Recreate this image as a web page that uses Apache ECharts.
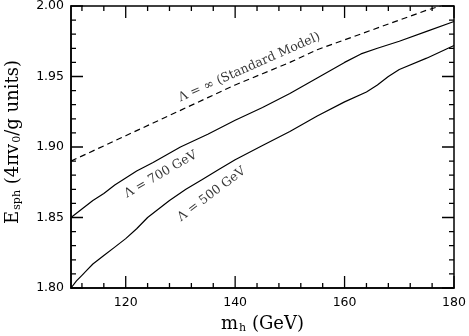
<!DOCTYPE html>
<html>
<head>
<meta charset="utf-8">
<script src="https://cdn.jsdelivr.net/npm/echarts@6.0.0/dist/echarts.min.js"></script>
<style>
html, body { margin: 0; padding: 0; background: #fff; }
#chart { width: 469px; height: 336px; }
</style>
</head>
<body>
<div id="chart"></div>
<script>
// Standard Model (Lambda = infinity), dashed
const mhSM = [110, 115, 120, 125, 130, 135, 140, 145, 150, 155, 160, 165, 170, 175, 180]
const esphSM = [1.890, 1.899, 1.908, 1.917, 1.926, 1.935, 1.944, 1.952, 1.960, 1.969, 1.976, 1.983, 1.990, 1.997, 2.003]
// Lambda = 700 GeV
const mh700 = [110, 112, 114, 116, 118, 120, 122, 125, 130, 135, 140, 145, 150, 155, 160, 163, 166, 170, 175, 180]
const esph700 = [1.850, 1.856, 1.862, 1.867, 1.873, 1.878, 1.883, 1.889, 1.900, 1.909, 1.919, 1.928, 1.938, 1.949, 1.960, 1.966, 1.970, 1.975, 1.982, 1.989]
// Lambda = 500 GeV
const mh500 = [110, 111, 112, 113, 114, 116, 118, 120, 122, 124, 126, 128, 131, 134, 137, 140, 145, 150, 155, 160, 164, 166, 168, 170, 175, 180]
const esph500 = [1.800, 1.805, 1.809, 1.813, 1.817, 1.823, 1.829, 1.835, 1.842, 1.850, 1.856, 1.862, 1.870, 1.877, 1.884, 1.891, 1.901, 1.911, 1.922, 1.932, 1.939, 1.944, 1.950, 1.955, 1.963, 1.972]

// curve labels: text, anchor (mh, Esph), rotation
const labelText = ['Λ = ∞ (Standard Model)', 'Λ = 700 GeV', 'Λ = 500 GeV']
const labelPos = [[142.6, 1.9565], [126.4, 1.8805], [135.7, 1.8665]]
const labelRot = [24, 30, 37]

// tick values
const xMajor = [120, 140, 160, 180]
const xMinor = [112, 116, 124, 128, 132, 136, 144, 148, 152, 156, 164, 168, 172, 176]
const yMajor = [1.80, 1.85, 1.90, 1.95, 2.00]
const yMinor = [1.81, 1.82, 1.83, 1.84, 1.86, 1.87, 1.88, 1.89, 1.91, 1.92, 1.93, 1.94, 1.96, 1.97, 1.98, 1.99]

const xRange = [110, 180]
const yRange = [1.80, 2.00]
const black = '#000000'
const serif = 'DejaVu Serif'
const grid = { left: 71, right: 15, top: 6, bottom: 48 }
const plotW = 469 - grid.left - grid.right
const plotH = 336 - grid.top - grid.bottom

function pairs(xs, ys) {
	return xs.map((x, i) => [x, ys[i]])
}

// tick lengths (12px major, 5px minor) turned into axis units
const xLen = px => px * (xRange[1] - xRange[0]) / plotW
const yLen = px => px * (yRange[1] - yRange[0]) / plotH

// all frame ticks as one broken polyline, pointing inwards
const gap = ['-', '-']
let tickLine = []
function addX(v, px) {
	tickLine.push([v, yRange[0]], [v, yRange[0] + yLen(px)], gap)
	tickLine.push([v, yRange[1]], [v, yRange[1] - yLen(px)], gap)
}
function addY(v, px) {
	tickLine.push([xRange[0], v], [xRange[0] + xLen(px), v], gap)
	tickLine.push([xRange[1], v], [xRange[1] - xLen(px), v], gap)
}
xMajor.forEach(v => addX(v, 12))
xMinor.forEach(v => addX(v, 5))
yMajor.forEach(v => addY(v, 12))
yMinor.forEach(v => addY(v, 5))

const tickFont = { color: black, fontFamily: 'DejaVu Sans', fontSize: 12.5 }
const titleRich = {
	a: { fontFamily: serif, fontSize: 18, color: black },
	e: { fontFamily: serif, fontSize: 18, color: black, padding: [0, 0, 0, 10] },
	s: { fontFamily: serif, fontSize: 11, color: black, padding: [9, 0, 0, 1] }
}

const chart = echarts.init(document.getElementById('chart'))

const option = {
	animation: false,
	grid: Object.assign({
		outerBoundsMode: 'none',
		show: true, borderColor: black, borderWidth: 1.5
	}, grid),
	xAxis: {
		type: 'value',
		min: xRange[0],
		max: xRange[1],
		interval: 10,
		splitLine: { show: false },
		axisLine: { show: true, lineStyle: { color: black, width: 1.5 } },
		axisTick: { show: false },
		axisLabel: Object.assign({
			show: true,
			margin: 8,
			formatter: v => (xMajor.indexOf(v) >= 0 ? String(v) : '')
		}, tickFont),
		name: '{a|m}{s|h}{a| (GeV)}',
		nameLocation: 'middle',
		nameGap: 26,
		nameTextStyle: { rich: titleRich }
	},
	yAxis: {
		type: 'value',
		min: yRange[0],
		max: yRange[1],
		interval: 0.05,
		splitLine: { show: false },
		axisLine: { show: true, lineStyle: { color: black, width: 1.5 } },
		axisTick: { show: false },
		axisLabel: Object.assign({ show: true, margin: 7, formatter: v => v.toFixed(2) }, tickFont),
		name: '{e|E}{s|sph}{a| (4πv}{s|0}{a|/g units)}',
		nameLocation: 'middle',
		nameRotate: 90,
		nameGap: 48,
		nameTextStyle: { rich: titleRich }
	},
	series: [
		{
			type: 'line', data: tickLine, showSymbol: false, connectNulls: false, clip: false,
			silent: true,
			lineStyle: { color: black, width: 1.3 }
		},
		{
			type: 'line', data: pairs(mhSM, esphSM), showSymbol: false,
			lineStyle: { color: black, width: 1.2, type: [6, 4] }
		},
		{
			type: 'line', data: pairs(mh700, esph700), showSymbol: false,
			lineStyle: { color: black, width: 1.2 }
		},
		{
			type: 'line', data: pairs(mh500, esph500), showSymbol: false,
			lineStyle: { color: black, width: 1.2 }
		}
	].concat(labelText.map((t, i) => ({
		type: 'scatter',
		data: [labelPos[i]],
		symbolSize: 0,
		silent: true,
		label: {
			show: true,
			position: 'inside',
			formatter: t,
			rotate: labelRot[i],
			fontFamily: serif,
			fontSize: 12.5,
			color: black
		}
	})))
}

chart.setOption(option)
</script>
</body>
</html>
